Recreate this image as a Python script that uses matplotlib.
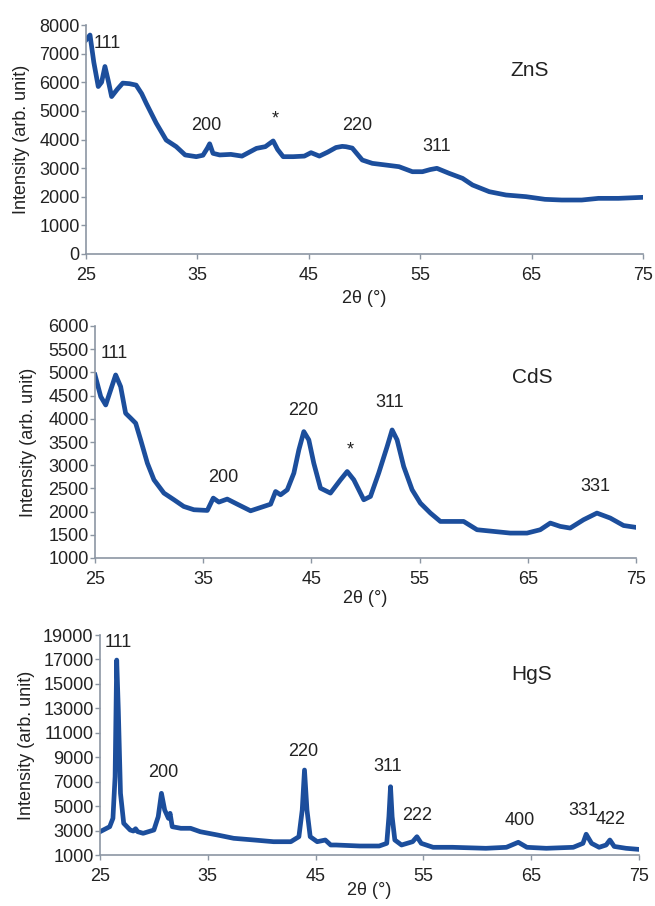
"""
XRD patterns of ZnS, CdS and HgS nanoparticles (three stacked panels).
Values read off the published figure.
"""
import matplotlib.pyplot as plt

plt.rcParams["font.family"] = ["Liberation Sans", "DejaVu Sans"]

LINE = "#1c4e9c"
AXC = "#8c96a3"

# ---- ZnS ----
zns_x = [25.0, 25.36, 25.7, 26.1, 26.4, 26.7, 27.0, 27.3, 27.8, 28.3, 28.9, 29.5,
         30.0, 30.4, 31.3, 32.2, 33.1, 33.9, 34.9, 35.5, 35.9, 36.1, 36.4, 37.0,
         38.0, 39.0, 40.3, 41.1, 41.8, 42.2, 42.7, 43.6, 44.6, 45.2, 45.95, 46.7,
         47.44, 48.0, 48.34, 48.9, 49.8, 50.7, 51.9, 53.1, 54.3, 55.2, 55.9, 56.5,
         57.6, 58.8, 59.7, 61.2, 62.7, 64.5, 66.2, 67.7, 69.5, 71.0, 72.8, 75.0]
zns_y = [7475, 7650, 6700, 5850, 6000, 6550, 6050, 5500, 5750, 5970, 5950, 5900,
         5600, 5270, 4575, 3980, 3750, 3460, 3400, 3450, 3700, 3850, 3517, 3460,
         3480, 3420, 3690, 3750, 3950, 3650, 3400, 3400, 3420, 3540, 3420, 3560,
         3720, 3760, 3748, 3700, 3283, 3167, 3109, 3050, 2875, 2875, 2950, 2993,
         2818, 2643, 2410, 2177, 2061, 2003, 1910, 1886, 1886, 1944, 1944, 1980]

# ---- CdS ----
cds_x = [25.0, 25.53, 25.99, 26.45, 26.91, 27.37, 27.83, 28.3, 28.76, 29.22, 29.84,
         30.45, 31.37, 32.3, 33.2, 34.14, 35.38, 35.93, 36.45, 37.22, 38.15, 39.38,
         40.6, 41.23, 41.69, 42.15, 42.77, 43.38, 43.84, 44.3, 44.76, 45.22, 45.84,
         46.76, 47.69, 48.31, 48.92, 49.84, 50.46, 51.22, 52.0, 52.46, 52.92, 53.53,
         54.31, 55.07, 56.0, 56.92, 58.15, 59.07, 60.31, 61.84, 63.38, 64.93, 66.15,
         67.08, 68.0, 68.92, 70.15, 71.39, 72.62, 73.85, 75.0]
cds_y = [4945, 4478, 4298, 4622, 4945, 4693, 4120, 4013, 3905, 3546, 3044, 2685,
         2399, 2255, 2111, 2040, 2025, 2291, 2205, 2270, 2160, 2017, 2111, 2160,
         2433, 2362, 2470, 2830, 3330, 3724, 3546, 3044, 2505, 2399, 2685, 2864,
         2685, 2255, 2327, 2830, 3402, 3760, 3546, 2972, 2470, 2183, 1968, 1788,
         1788, 1788, 1609, 1573, 1537, 1537, 1609, 1753, 1681, 1645, 1824, 1968,
         1861, 1700, 1660]

# ---- HgS ----
hgs_x = [25.0, 25.9, 26.2, 26.4, 26.55, 26.7, 26.9, 27.2, 27.8, 28.1, 28.3, 28.5,
         29.0, 30.0, 30.4, 30.7, 31.0, 31.35, 31.5, 31.7, 32.5, 33.4, 34.3, 35.9,
         37.4, 39.3, 41.1, 42.7, 43.45, 43.76, 43.97, 44.2, 44.5, 45.15, 45.9, 46.4,
         46.9, 49.1, 50.9, 51.6, 51.8, 51.95, 52.1, 52.35, 52.97, 54.0, 54.4, 54.8,
         55.9, 57.7, 60.8, 62.7, 63.8, 64.6, 66.4, 68.9, 69.8, 70.1, 70.6, 71.3,
         71.95, 72.3, 72.7, 73.8, 74.9]
hgs_y = [2906, 3315, 4000, 7405, 16950, 12860, 6047, 3594, 3045, 2960, 3150, 2906,
         2775, 3045, 4133, 6047, 4681, 4000, 4410, 3315, 3184, 3184, 2906, 2636,
         2366, 2227, 2088, 2088, 2497, 4681, 7953, 4681, 2497, 2088, 2227, 1818,
         1818, 1736, 1736, 1955, 4133, 6587, 4133, 2227, 1818, 2088, 2497, 1955,
         1630, 1630, 1548, 1630, 2040, 1630, 1548, 1630, 1955, 2700, 1955, 1630,
         1818, 2227, 1700, 1548, 1466]

# peak labels: (text, x, y)
zns_lab = [("111", 26.9, 7370), ("200", 35.8, 4506), ("*", 42.0, 4700),
           ("220", 49.35, 4506), ("311", 56.5, 3748)]
cds_lab = [("111", 26.75, 5412), ("200", 36.85, 2735), ("220", 44.24, 4170),
           ("*", 48.6, 3330), ("311", 52.24, 4349), ("331", 71.2, 2541)]
hgs_lab = [("111", 26.7, 18366), ("200", 30.88, 7732), ("220", 43.85, 9450),
           ("311", 51.67, 8280), ("222", 54.45, 4272), ("400", 63.9, 3806),
           ("331", 69.8, 4681), ("422", 72.4, 3945)]

W, H = 655, 906
fig = plt.figure(figsize=(W / 100, H / 100), dpi=100)

panels = [
    # name, x, y, labels, ylim, yticks, (left, right, top, bottom px), name pos,
    # ylabel x px, xlabel top px
    ("ZnS", zns_x, zns_y, zns_lab, (0, 8000), range(0, 8001, 1000),
     (86, 643, 25, 254), (64.8, 6427), 30, 290),
    ("CdS", cds_x, cds_y, cds_lab, (1000, 6000), range(1000, 6001, 500),
     (95, 636, 326, 558), (65.45, 4895), 37, 590),
    ("HgS", hgs_x, hgs_y, hgs_lab, (1000, 19000), range(1000, 19001, 2000),
     (100, 639, 635, 855), (65.07, 15780), 35, 882),
]

for name, x, y, labs, ylim, yt, (l, r, t, b), npos, ylx, xly in panels:
    ax = fig.add_axes([l / W, 1 - b / H, (r - l) / W, (b - t) / H])
    ax.plot(x, y, color=LINE, lw=3.4, solid_joinstyle="round")
    ax.set_xlim(25, 75)
    ax.set_ylim(*ylim)
    ax.set_xticks(range(25, 76, 10))
    ax.set_yticks(list(yt))
    for s in ("top", "right"):
        ax.spines[s].set_visible(False)
    for s in ("left", "bottom"):
        ax.spines[s].set_color(AXC)
        ax.spines[s].set_linewidth(1.2)
    ax.tick_params(axis="x", colors=AXC, labelcolor="#222222", length=3.6,
                   width=1, labelsize=13, pad=5.5)
    ax.tick_params(axis="y", colors=AXC, labelcolor="#222222", length=3.6,
                   width=1, labelsize=13, pad=1)
    ax.set_ylabel("Intensity (arb. unit)", fontsize=13, color="#222222")
    ax.yaxis.set_label_coords((ylx - l) / (r - l), 0.5)
    ax.set_xlabel("2θ (°)", fontsize=13, color="#222222")
    ax.xaxis.set_label_coords(0.5, -(xly - b) / (b - t))
    for txt, tx, ty in labs:
        ax.text(tx, ty, txt, fontsize=13, ha="center", va="center",
                color="#222222", clip_on=False)
    ax.text(npos[0], npos[1], name, fontsize=15, ha="center", va="center",
            color="#222222")

fig.savefig("out.png", dpi=100)
